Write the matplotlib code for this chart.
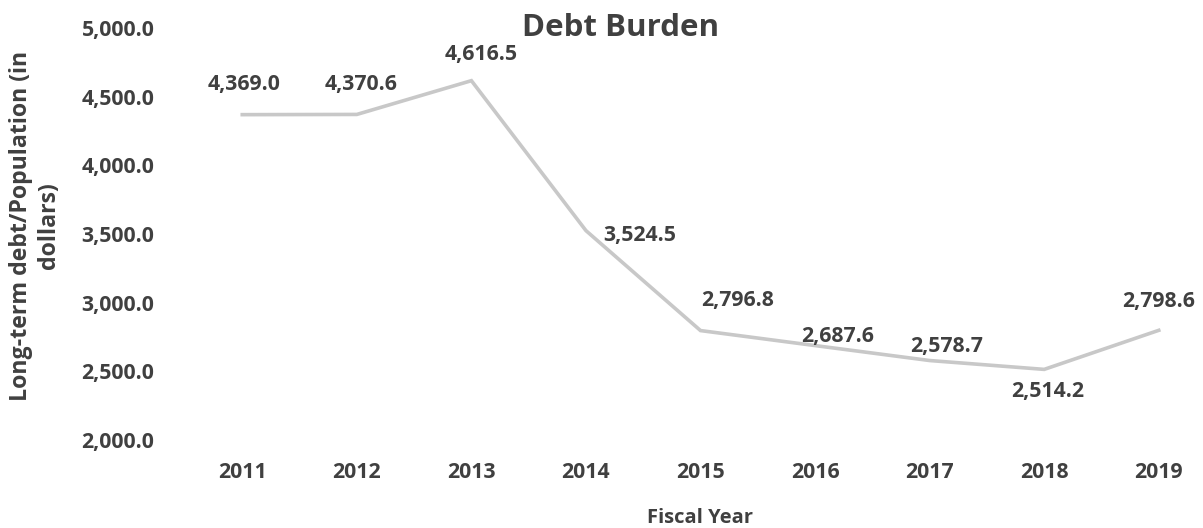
import numpy as np
import matplotlib
matplotlib.use("Agg")
import matplotlib.pyplot as plt

plt.rcParams['font.family'] = ['Open Sans', 'DejaVu Sans']

years = ['2011', '2012', '2013', '2014', '2015', '2016', '2017', '2018', '2019']
debt_per_capita = [4369.0, 4370.6, 4616.5, 3524.5, 2796.8, 2687.6, 2578.7, 2514.2, 2798.6]

# label offsets in pixels from each point (x, y)
label_offsets = [(2, 30), (4, 30), (10, 26), (54, -5), (37, 30),
                 (23, 9), (17, 14), (3, -22), (0, 29)]

text_color = '#404040'
line_color = '#c8c8c8'
W, H = 1203, 528

fig = plt.figure(figsize=(W / 100, H / 100), dpi=100)
ax = fig.add_axes([185 / W, 88 / H, (1200 - 185) / W, (440 - 28) / H])

x = np.arange(len(years))
ax.plot(x, debt_per_capita, color=line_color, linewidth=2.6, solid_joinstyle='miter')

for xi, val, (dx, dy) in zip(x, debt_per_capita, label_offsets):
    ax.annotate(f'{val:,.1f}', (xi, val), xytext=(dx, dy), textcoords='offset pixels',
                ha='center', va='center', fontsize=15.3, fontweight='bold', color=text_color)

ax.set_ylim(2000, 5000)
ax.set_xlim(-0.5, 8.36)
yticks = np.arange(2000, 5001, 500)
ax.set_yticks(yticks)
ax.set_yticklabels([f'{v:,.1f}' for v in yticks])
ax.set_xticks(x)
ax.set_xticklabels(years)

for lbl in ax.get_xticklabels() + ax.get_yticklabels():
    lbl.set_fontweight('bold')
    lbl.set_fontsize(15.3)
    lbl.set_color(text_color)

ax.tick_params(axis='y', length=0, pad=22)
ax.tick_params(axis='x', length=0, pad=16)
for spine in ax.spines.values():
    spine.set_visible(False)

fig.text(35 / W, 1 - 226 / H, 'Long-term debt/Population (in\ndollars)', rotation=90,
         ha='center', va='center', fontsize=16.7, fontweight='bold', color=text_color,
         linespacing=1.2, multialignment='center')
fig.text(700 / W, 1 - 518 / H, 'Fiscal Year', ha='center', va='center',
         fontsize=14.5, fontweight='bold', color=text_color)
fig.text(621 / W, 1 - 28 / H, 'Debt Burden', ha='center', va='center',
         fontsize=22.5, fontweight='bold', color=text_color)

fig.savefig('out.png', dpi=100)
